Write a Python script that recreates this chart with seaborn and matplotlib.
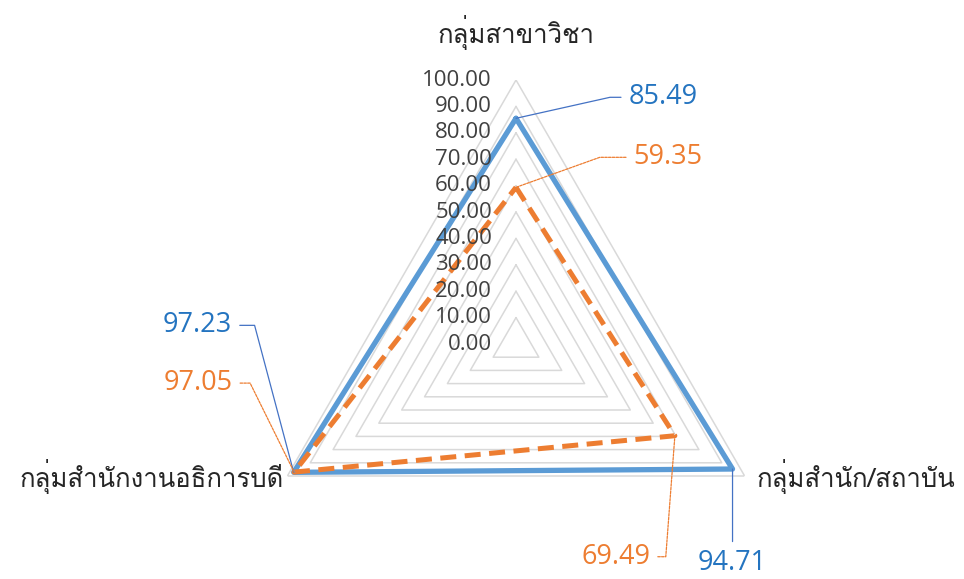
import numpy as np
import pandas as pd
import seaborn as sns
import matplotlib
matplotlib.use("Agg")
import matplotlib.pyplot as plt
from matplotlib import font_manager
from matplotlib.ft2font import FT2Font

# ---------------- data ----------------
categories = ["กลุ่มสาขาวิชา", "กลุ่มสำนัก/สถาบัน", "กลุ่มสำนักงานอธิการบดี"]
series_names = ["Series A", "Series B"]
values_a = [85.49, 94.71, 97.23]
values_b = [59.35, 69.49, 97.05]
levels = [0, 10, 20, 30, 40, 50, 60, 70, 80, 90, 100]

# ---------------- font with Thai coverage ----------------
thai_font = None
cands = []
for f in font_manager.fontManager.ttflist:
    try:
        ft = FT2Font(f.fname)
        if ft.get_char_index(0x0E01) and ft.get_char_index(0x0E38):
            cands.append(f)
    except Exception:
        pass
cands.sort(key=lambda f: (f.weight != 400 and f.weight != "normal", f.style != "normal"))
if cands:
    thai_font = cands[0].name

sns.set_theme(style="white")
fam = ([thai_font] if thai_font else []) + ["DejaVu Sans"]
plt.rcParams["font.family"] = fam
num_fam = ["Open Sans", "DejaVu Sans"]

W, H = 964, 579
fig = plt.figure(figsize=(W / 100, H / 100), dpi=100)
cx, cy, R = 516, 344, 264
ax = fig.add_axes([(cx - R) / W, (H - cy - R) / H, 2 * R / W, 2 * R / H], projection="polar")
ax.set_theta_offset(np.pi / 2)
ax.set_theta_direction(-1)
ax.set_ylim(0, 100)
ax.grid(False)
ax.spines["polar"].set_visible(False)
ax.set_xticks([])
ax.set_yticks([])
ax.set_facecolor("none")

n = len(categories)
theta = [2 * np.pi * i / n for i in range(n)]
theta_c = theta + [theta[0]]

# grid triangles
for lv in levels[1:]:
    ax.plot(theta_c, [lv] * (n + 1), color="#D9D9D9", lw=1.1, zorder=1)

df = pd.DataFrame({
    "theta": theta_c * 2,
    "value": values_a + [values_a[0]] + values_b + [values_b[0]],
    "series": [series_names[0]] * (n + 1) + [series_names[1]] * (n + 1),
})
sns.lineplot(data=df[df.series == series_names[0]], x="theta", y="value", sort=False,
             estimator=None, color="#5B9BD5", lw=3.8, ax=ax, legend=False, zorder=3)
sns.lineplot(data=df[df.series == series_names[1]], x="theta", y="value", sort=False,
             estimator=None, color="#ED7D31", lw=3.6, ax=ax, legend=False, zorder=4,
             linestyle=(0, (3.2, 1.7)))
ax.set_xlabel("")
ax.set_ylabel("")
ax.set_ylim(0, 100)

# radial tick labels
for lv in levels:
    ax.text(0, lv, f"{lv:.2f}", ha="right", va="center", fontsize=16, color="#404040",
            family=num_fam,
            transform=ax.transData + matplotlib.transforms.ScaledTranslation(-24 / 100, 0, fig.dpi_scale_trans),
            zorder=6)

# category labels
ax.annotate(categories[0], xy=(theta[0], 100), xytext=(0, 47), textcoords="offset pixels",
            ha="center", va="center", fontsize=18.5, color="#262626", annotation_clip=False)
ax.annotate(categories[1], xy=(theta[1], 100), xytext=(12, 0), textcoords="offset pixels",
            ha="left", va="center", fontsize=18.5, color="#262626", annotation_clip=False)
ax.annotate(categories[2], xy=(theta[2], 100), xytext=(-4, 0), textcoords="offset pixels",
            ha="right", va="center", fontsize=18.5, color="#262626", annotation_clip=False)

# data labels with leader lines
blue_txt, orange_txt = "#2474C0", "#ED7D31"
lab_a = [((147, 21), "center", "angle,angleA=0,angleB=12.6,rad=0"),
         ((0, -94), "center", "arc3"),
         ((-96, 147), "center", "angle,angleA=0,angleB=104.9,rad=0")]
lab_b = [((152, 30), "center", "angle,angleA=0,angleB=19.7,rad=0"),
         ((-59, -121), "center", "angle,angleA=0,angleB=-94.3,rad=0"),
         ((-96, 89), "center", "angle,angleA=0,angleB=116.3,rad=0")]
for vals, labs, col, lcol, ls in [(values_a, lab_a, blue_txt, "#4472C4", "-"),
                                  (values_b, lab_b, orange_txt, "#ED7D31", (0, (2, 1)))]:
    for t, v, (off, ha, cs) in zip(theta, vals, labs):
        ax.annotate(f"{v:.2f}", xy=(t, v), xytext=off, textcoords="offset pixels",
                    ha=ha, va="center", fontsize=19.5, color=col, annotation_clip=False,
                    family=num_fam,
                    arrowprops=dict(arrowstyle="-", color=lcol, lw=0.9, linestyle=ls,
                                    connectionstyle=cs, shrinkA=3, shrinkB=0),
                    zorder=7)

fig.savefig("out.png", dpi=100)
